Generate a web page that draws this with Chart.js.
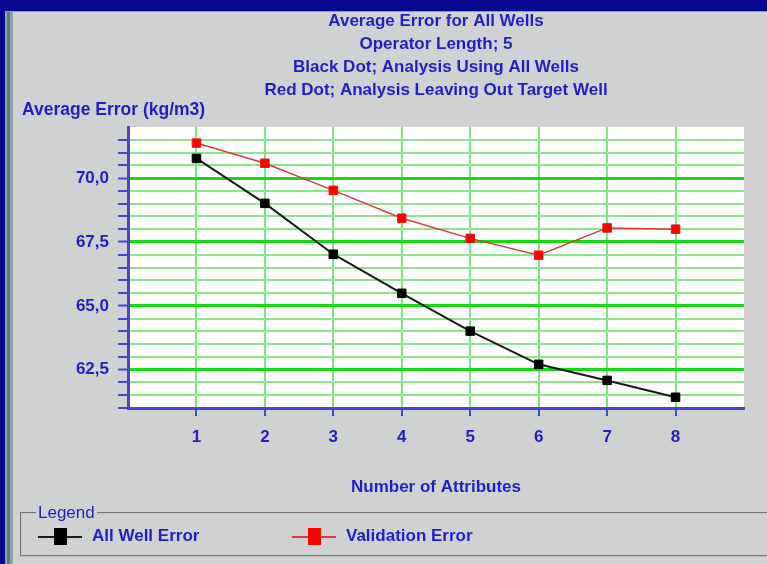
<!DOCTYPE html>
<html>
<head>
<meta charset="utf-8">
<title>Average Error for All Wells</title>
<script src="https://cdn.jsdelivr.net/npm/chart.js@4.4.1/dist/chart.umd.min.js"></script>
<style>
  html, body { margin: 0; padding: 0; }
  body {
    width: 767px; height: 564px; overflow: hidden; position: relative;
    background: #cfd1d3;
    font-family: "Liberation Sans", Arial, sans-serif;
  }
  #topbar { position: absolute; left: 0; top: 0; width: 767px; height: 11px; background: #06088f; border-bottom: 1px solid #8c9aa0; }
  #leftbar { position: absolute; left: 0; top: 0; width: 5px; height: 564px; background: #06088f; }
  #edge { position: absolute; left: 5px; top: 12px; width: 8px; height: 552px; background: #8fa4a6; }
  #edge::after { content: ""; position: absolute; left: 2px; top: 0; width: 3px; height: 100%; background: #5f7a7e; }
  #wrap { position: absolute; left: 0; top: 0; width: 767px; height: 564px; }
  fieldset#legendBox {
    position: absolute; left: 20px; top: 504px; width: 770px; height: 53px;
    margin: 0; padding: 0; border: 2px groove #c4c6c8; box-sizing: border-box;
  }
  fieldset#legendBox legend {
    margin-left: 14px; padding: 0 2px; color: #1f1fc4; font-size: 17px; line-height: 18px;
  }
  #legendItems { position: absolute; left: 16px; top: 4px; white-space: nowrap; }
  .item { display: inline-flex; align-items: center; width: 254px; }
  .icon { position: relative; display: inline-block; width: 44px; height: 17px; margin-right: 10px; }
  .icon .ln { position: absolute; left: 0; right: 0; top: 8px; height: 2px; }
  .icon .sq { position: absolute; left: 16px; top: 0; width: 13px; height: 17px; }
  .txt { color: #1f1fc4; font-weight: bold; font-size: 17px; }
</style>
</head>
<body>
<div id="topbar"></div>
<div id="leftbar"></div>
<div id="edge"></div>
<div id="wrap"><canvas id="chart" width="767" height="564"></canvas></div>
<fieldset id="legendBox">
  <legend>Legend</legend>
  <div id="legendItems"></div>
</fieldset>
<script>
// dados
const attributes = [1, 2, 3, 4, 5, 6, 7, 8];
const allWellError = [70.77, 69.01, 67.02, 65.49, 64.01, 62.71, 62.08, 61.42];
const validationError = [71.37, 70.58, 69.52, 68.43, 67.64, 66.98, 68.05, 68.0];
const yTickLabels = [62.5, 65.0, 67.5, 70.0];
const titleLines = [
  'Average Error for All Wells',
  'Operator Length; 5',
  'Black Dot; Analysis Using All Wells',
  'Red Dot; Analysis Leaving Out Target Well'
];
const yTitle = 'Average Error (kg/m3)';
const xTitle = 'Number of Attributes';

const blue = '#1f1fc4';
const axisBlue = '#4646c8';
const fontFamily = '"Liberation Sans", Arial, sans-serif';

const isMajor = v => Math.abs(v / 2.5 - Math.round(v / 2.5)) < 1e-6;

// fundo branco da área do gráfico e título do eixo Y
const frame = {
  id: 'frame',
  beforeDraw(chart) {
    const { ctx, chartArea: a } = chart;
    ctx.save();
    ctx.fillStyle = '#ffffff';
    ctx.fillRect(a.left, a.top, a.right - a.left, a.bottom - a.top);
    ctx.restore();
  },
  afterDraw(chart) {
    const ctx = chart.ctx;
    ctx.save();
    ctx.font = 'bold 17.5px ' + fontFamily;
    ctx.fillStyle = blue;
    ctx.textAlign = 'left';
    ctx.textBaseline = 'middle';
    ctx.fillText(yTitle, 22, 110);
    ctx.restore();
  }
};

const ctx = document.getElementById('chart').getContext('2d');
const chart = new Chart(ctx, {
  type: 'line',
  data: {
    datasets: [{
      label: 'All Well Error',
      data: attributes.map((a, i) => ({ x: a, y: allWellError[i] })),
      borderColor: '#1a1a1a',
      backgroundColor: '#000000',
      pointBackgroundColor: '#000000',
      pointBorderColor: '#000000',
      borderWidth: 2,
      pointStyle: 'rect',
      pointRadius: 6,
      pointBorderWidth: 1,
      tension: 0
    }, {
      label: 'Validation Error',
      data: attributes.map((a, i) => ({ x: a, y: validationError[i] })),
      borderColor: '#dc3a3a',
      backgroundColor: '#ff0000',
      pointBackgroundColor: '#ff0000',
      pointBorderColor: '#f01010',
      borderWidth: 1.5,
      pointStyle: 'rect',
      pointRadius: 6,
      pointBorderWidth: 1,
      tension: 0
    }]
  },
  options: {
    responsive: false,
    animation: false,
    layout: { padding: { left: 0, right: 23, top: 0, bottom: 56 } },
    plugins: {
      legend: { display: false },
      tooltip: { enabled: false },
      title: {
        display: true,
        fullSize: false,
        text: titleLines,
        color: blue,
        font: { family: fontFamily, size: 17, weight: 'bold', lineHeight: 23 / 17 },
        padding: { top: 9.5, bottom: 25.5 }
      }
    },
    scales: {
      x: {
        type: 'linear',
        min: 0,
        max: 9,
        afterFit: s => { s.height = 100; },
        afterBuildTicks: s => { s.ticks = [0, ...attributes, 9].map(v => ({ value: v })); },
        ticks: {
          autoSkip: false,
          padding: 11,
          color: blue,
          font: { family: fontFamily, size: 17, weight: 'bold' },
          callback: v => attributes.includes(v) ? String(v) : ''
        },
        grid: {
          color: c => (c.tick && attributes.includes(c.tick.value)) ? '#7ee67e' : 'rgba(0,0,0,0)',
          tickColor: c => (c.tick && attributes.includes(c.tick.value)) ? axisBlue : 'rgba(0,0,0,0)',
          lineWidth: 2,
          tickWidth: 2,
          tickLength: 8
        },
        border: { color: axisBlue, width: 3 },
        title: {
          display: true,
          text: xTitle,
          color: blue,
          font: { family: fontFamily, size: 17, weight: 'bold' },
          padding: { top: 0, bottom: 10 }
        }
      },
      y: {
        min: 61,
        max: 72,
        afterFit: s => { s.width = 128; },
        afterBuildTicks: s => {
          const t = [];
          for (let v = 61; v <= 72.0001; v += 0.5) t.push({ value: +v.toFixed(1) });
          s.ticks = t;
        },
        ticks: {
          autoSkip: false,
          padding: 9,
          color: blue,
          font: { family: fontFamily, size: 17, weight: 'bold' },
          callback: v => yTickLabels.includes(v) ? v.toFixed(1).replace('.', ',') : ''
        },
        grid: {
          color: c => {
            const v = c.tick ? c.tick.value : null;
            if (v === null || v <= 61 || v >= 72) return 'rgba(0,0,0,0)';
            return isMajor(v) ? '#10dc10' : '#8ae68a';
          },
          lineWidth: c => (c.tick && isMajor(c.tick.value)) ? 3 : 2,
          tickColor: c => (c.tick && c.tick.value < 72) ? axisBlue : 'rgba(0,0,0,0)',
          tickWidth: 2,
          tickLength: 10
        },
        border: { color: axisBlue, width: 3 }
      }
    }
  },
  plugins: [frame]
});

// legenda em caixa de grupo, montada a partir dos datasets
const legendItems = document.getElementById('legendItems');
chart.data.datasets.forEach(ds => {
  const item = document.createElement('span');
  item.className = 'item';
  item.innerHTML = `
    <span class="icon"><span class="ln" style="background:${ds.borderColor}"></span><span class="sq" style="background:${ds.pointBackgroundColor}"></span></span>
    <span class="txt">${ds.label}</span>`;
  legendItems.appendChild(item);
});
</script>
</body>
</html>
